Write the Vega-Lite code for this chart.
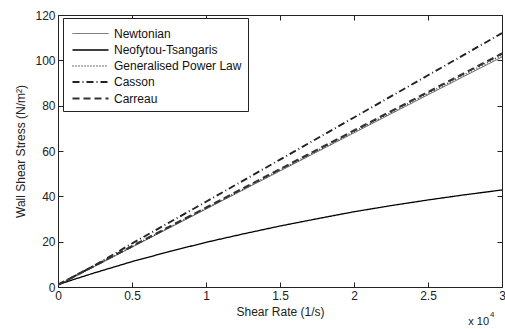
{
  "$schema": "https://vega.github.io/schema/vega-lite/v6.json",
  "width": 444,
  "height": 272,
  "autosize": "none",
  "padding": {"left": 58, "top": 15, "right": 3, "bottom": 42},
  "background": "white",
  "config": {
    "font": "Liberation Sans",
    "view": {"stroke": "#222", "strokeWidth": 1},
    "axis": {"labelFont": "Liberation Sans", "titleFont": "Liberation Sans", "labelFontSize": 12, "titleFontSize": 12, "titleFontWeight": "normal", "labelColor": "#222", "titleColor": "#222", "domainColor": "#222", "tickColor": "#222", "grid": false}
  },
  "data": {"values": [
    {"series": "Newtonian", "x": 0, "y": 0.8},
    {"series": "Newtonian", "x": 0.5, "y": 17.6},
    {"series": "Newtonian", "x": 1, "y": 34.4},
    {"series": "Newtonian", "x": 1.5, "y": 51.2},
    {"series": "Newtonian", "x": 2, "y": 68},
    {"series": "Newtonian", "x": 2.5, "y": 84.8},
    {"series": "Newtonian", "x": 3, "y": 101.5},
    {"series": "Neofytou-Tsangaris", "x": 0, "y": 1},
    {"series": "Neofytou-Tsangaris", "x": 0.1, "y": 3.2},
    {"series": "Neofytou-Tsangaris", "x": 0.25, "y": 6.3},
    {"series": "Neofytou-Tsangaris", "x": 0.5, "y": 11.2},
    {"series": "Neofytou-Tsangaris", "x": 0.75, "y": 15.6},
    {"series": "Neofytou-Tsangaris", "x": 1, "y": 19.7},
    {"series": "Neofytou-Tsangaris", "x": 1.25, "y": 23.4},
    {"series": "Neofytou-Tsangaris", "x": 1.5, "y": 26.9},
    {"series": "Neofytou-Tsangaris", "x": 1.75, "y": 30.1},
    {"series": "Neofytou-Tsangaris", "x": 2, "y": 33.2},
    {"series": "Neofytou-Tsangaris", "x": 2.25, "y": 35.9},
    {"series": "Neofytou-Tsangaris", "x": 2.5, "y": 38.4},
    {"series": "Neofytou-Tsangaris", "x": 2.75, "y": 40.7},
    {"series": "Neofytou-Tsangaris", "x": 3, "y": 42.8},
    {"series": "Generalised Power Law", "x": 0, "y": 1},
    {"series": "Generalised Power Law", "x": 0.5, "y": 17.8},
    {"series": "Generalised Power Law", "x": 1, "y": 34.7},
    {"series": "Generalised Power Law", "x": 1.5, "y": 51.6},
    {"series": "Generalised Power Law", "x": 2, "y": 68.5},
    {"series": "Generalised Power Law", "x": 2.5, "y": 85.4},
    {"series": "Generalised Power Law", "x": 3, "y": 102.3},
    {"series": "Casson", "x": 0, "y": 1},
    {"series": "Casson", "x": 0.1, "y": 4.4},
    {"series": "Casson", "x": 0.25, "y": 9.6},
    {"series": "Casson", "x": 0.5, "y": 19.2},
    {"series": "Casson", "x": 1, "y": 37.6},
    {"series": "Casson", "x": 1.5, "y": 56.2},
    {"series": "Casson", "x": 2, "y": 74.8},
    {"series": "Casson", "x": 2.5, "y": 93.4},
    {"series": "Casson", "x": 3, "y": 112},
    {"series": "Carreau", "x": 0, "y": 1},
    {"series": "Carreau", "x": 0.5, "y": 18},
    {"series": "Carreau", "x": 1, "y": 35},
    {"series": "Carreau", "x": 1.5, "y": 52},
    {"series": "Carreau", "x": 2, "y": 69},
    {"series": "Carreau", "x": 2.5, "y": 86},
    {"series": "Carreau", "x": 3, "y": 103}
  ]},
  "layer": [
    {
      "mark": {"type": "line", "clip": true},
      "encoding": {
        "x": {"field": "x", "type": "quantitative", "scale": {"domain": [0, 3], "nice": false},
              "axis": {"values": [0, 0.5, 1, 1.5, 2, 2.5, 3], "format": "~g", "title": "Shear Rate (1/s)", "titlePadding": 5, "tickSize": -5, "labelPadding": 8, "labelFlush": false, "domain": false}},
        "y": {"field": "y", "type": "quantitative", "scale": {"domain": [0, 120], "nice": false},
              "axis": {"values": [0, 20, 40, 60, 80, 100, 120], "title": "Wall Shear Stress (N/m²)", "titlePadding": 7, "tickSize": -5, "labelPadding": 8, "labelFlush": false, "domain": false}},
        "color": {"field": "series", "type": "nominal",
                  "scale": {"domain": ["Newtonian", "Neofytou-Tsangaris", "Generalised Power Law", "Casson", "Carreau"], "range": ["#555555", "#000000", "#444444", "#222222", "#333333"]},
                  "legend": {"title": null, "orient": "none", "legendX": 5, "legendY": 3, "symbolType": "M-2,0H2", "symbolSize": 324, "symbolOffset": 11, "labelFontSize": 12, "labelColor": "#111", "labelFont": "Liberation Sans", "strokeColor": "#222", "fillColor": "white", "padding": 6, "rowPadding": 0, "labelOffset": 13}},
        "strokeDash": {"field": "series", "type": "nominal",
                  "scale": {"domain": ["Newtonian", "Neofytou-Tsangaris", "Generalised Power Law", "Casson", "Carreau"], "range": [[1, 0], [1, 0], [1, 2], [7, 3, 1, 3], [7, 4]]}},
        "strokeWidth": {"field": "series", "type": "nominal",
                  "scale": {"domain": ["Newtonian", "Neofytou-Tsangaris", "Generalised Power Law", "Casson", "Carreau"], "range": [1, 2.2, 1, 1, 1]}}
      }
    },
    {
      "data": {"values": [{"label": "x 10"}]},
      "mark": {"type": "text", "align": "right", "baseline": "top", "dx": -13, "dy": 29, "fontSize": 11, "color": "#222", "font": "Liberation Sans", "clip": false},
      "encoding": {
        "x": {"datum": 3, "type": "quantitative", "axis": null},
        "y": {"datum": 0, "type": "quantitative", "axis": null},
        "text": {"field": "label"}
      }
    },
    {
      "data": {"values": [{"label": "4"}]},
      "mark": {"type": "text", "align": "left", "baseline": "top", "dx": -12, "dy": 24, "fontSize": 8, "color": "#222", "font": "Liberation Sans", "clip": false},
      "encoding": {
        "x": {"datum": 3, "type": "quantitative", "axis": null},
        "y": {"datum": 0, "type": "quantitative", "axis": null},
        "text": {"field": "label"}
      }
    },
    {
      "mark": {"type": "point", "opacity": 0},
      "encoding": {
        "x": {"field": "x", "type": "quantitative", "axis": {"orient": "top", "values": [0, 0.5, 1, 1.5, 2, 2.5, 3], "labels": false, "title": null, "tickSize": -5, "domain": false}},
        "y": {"field": "y", "type": "quantitative", "axis": {"orient": "right", "values": [0, 20, 40, 60, 80, 100, 120], "labels": false, "title": null, "tickSize": -5, "domain": false}}
      }
    }
  ],
  "resolve": {"axis": {"x": "independent", "y": "independent"}}
}
